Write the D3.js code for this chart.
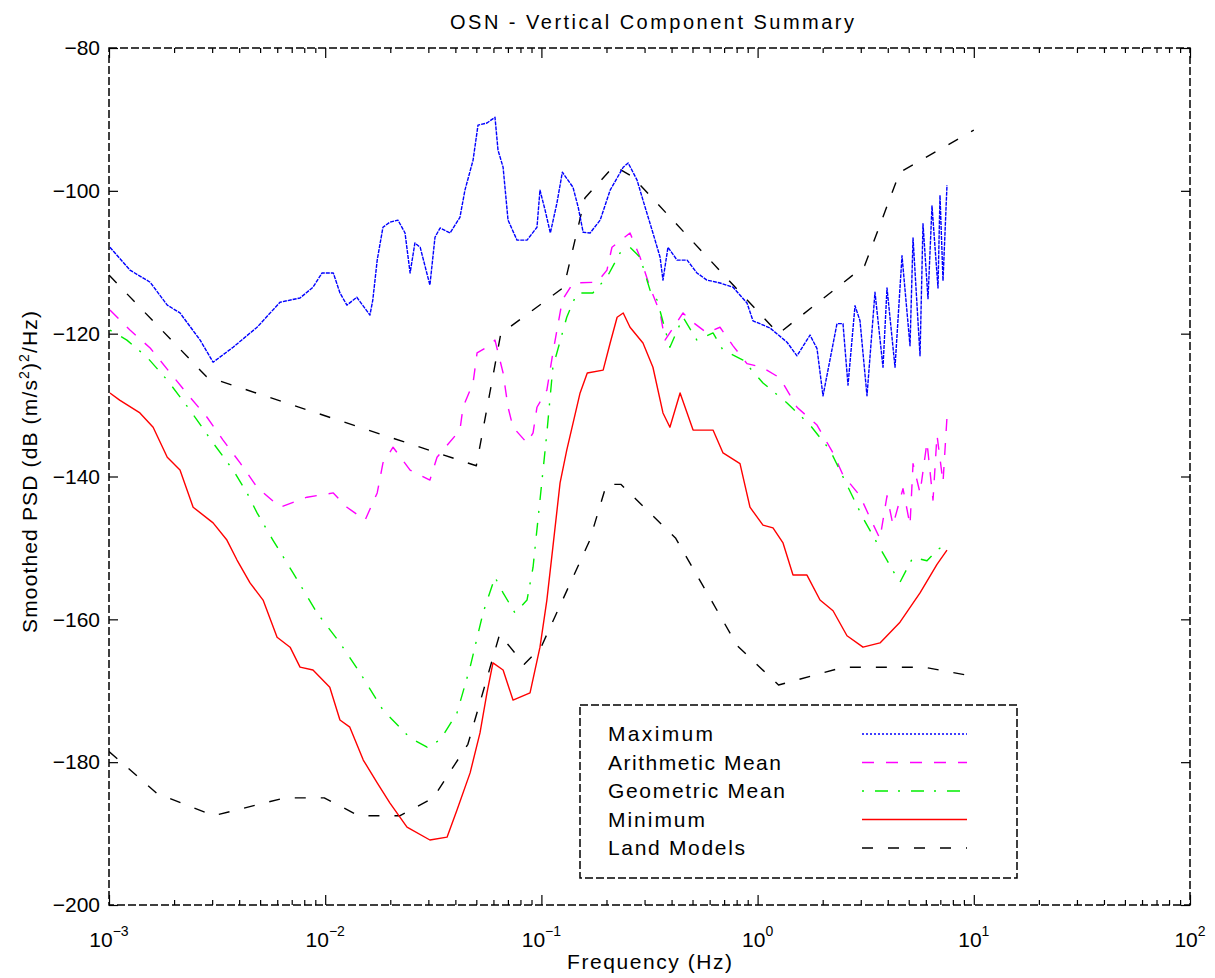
<!DOCTYPE html>
<html>
<head>
<meta charset="utf-8">
<script src="https://cdn.jsdelivr.net/npm/d3@7"></script>
<style>
  body { margin: 0; background: #fff; }
  svg { display: block; }
  text { font-family: "Liberation Sans", Arial, Helvetica, sans-serif; fill: #000; }
</style>
</head>
<body>
<svg id="chart" width="1215" height="978"></svg>
<script>
// ---- Smoothed PSD summary, vertical component (frequency in Hz, PSD in dB) ----
const maxFreq = [
  0.00101,0.00125,0.00155,0.00186,0.00213,0.00264,0.00303,0.00375,0.00484,0.00618,
  0.00765,0.00878,0.00967,0.0109,0.0117,0.0126,0.0140,0.0161,0.0166,0.0174,
  0.0185,0.0199,0.0217,0.0234,0.0247,0.0260,0.0275,0.0305,0.0322,0.0340,
  0.0378,0.0420,0.0443,0.0483,0.0509,0.0560,0.0610,0.0630,0.0665,0.0701,
  0.0771,0.0858,0.0954,0.0985,0.104,0.110,0.118,0.125,0.140,0.148,
  0.156,0.168,0.187,0.208,0.239,0.252,0.277,0.295,0.328,0.354,
  0.365,0.385,0.424,0.472,0.524,0.583,0.670,0.770,0.893,0.952,
  1.141,1.368,1.521,1.748,1.883,2.007,2.329,2.483,2.619,2.822,
  2.976,3.206,3.491,3.802,3.968,4.321,4.655,5.070,5.235,5.640,
  5.821,6.140,6.407,6.830,6.977,7.204,7.516
];
const maxDb = [
  -107.9,-111.1,-112.8,-116.0,-117.1,-120.9,-124.0,-121.9,-119.1,-115.6,
  -115.0,-113.5,-111.5,-111.5,-114.3,-116.0,-114.9,-117.4,-115.3,-109.7,
  -105.1,-104.4,-104.1,-105.9,-111.5,-107.3,-107.9,-113.2,-106.5,-105.2,
  -105.9,-103.7,-99.9,-95.7,-90.8,-90.5,-89.7,-94.3,-96.7,-104.1,
  -106.9,-106.9,-105.1,-99.9,-102.7,-105.9,-101.7,-97.4,-99.5,-102.3,
  -105.8,-105.9,-104.1,-99.9,-96.7,-96.1,-98.5,-101.3,-105.9,-109.3,
  -112.5,-107.9,-109.7,-109.7,-111.5,-112.5,-112.9,-113.5,-115.7,-118.2,
  -119.2,-121.2,-123.1,-120.2,-122.1,-128.7,-118.6,-118.6,-127.2,-116.1,
  -118.2,-128.7,-114.2,-124.7,-113.6,-124.7,-109.1,-121.7,-106.6,-123.1,
  -104.6,-115.1,-102.1,-113.6,-100.6,-112.6,-99.2
];

const amFreq = [
  0.00101,0.00125,0.00155,0.00192,0.00237,0.00284,0.00337,0.00404,0.00484,0.00618,
  0.00824,0.0109,0.0126,0.0153,0.0174,0.0185,0.0206,0.0247,0.0305,0.0329,
  0.0420,0.0434,0.0483,0.0504,0.0560,0.0610,0.0665,0.0701,0.0739,0.0858,
  0.0915,0.0954,0.106,0.113,0.125,0.140,0.181,0.201,0.212,0.257,
  0.286,0.318,0.354,0.373,0.452,0.487,0.583,0.670,0.770,0.893,
  1.048,1.269,1.521,1.883,2.233,2.483,2.976,3.311,3.682,3.968,
  4.229,4.704,5.070,5.235,5.640,6.074,6.476,6.757,7.204,7.516
];
const amDb = [
  -116.7,-119.5,-122.0,-125.5,-128.9,-131.7,-134.9,-138.1,-141.5,-144.3,
  -142.9,-142.3,-144.3,-146.1,-142.3,-138.1,-135.9,-139.1,-140.5,-137.3,
  -133.5,-130.3,-126.9,-122.7,-121.9,-120.9,-125.5,-130.3,-133.1,-135.3,
  -133.9,-130.3,-127.9,-122.7,-115.3,-112.9,-112.8,-111.1,-107.9,-105.9,
  -109.3,-113.5,-117.1,-120.9,-117.1,-118.1,-119.9,-119.1,-121.7,-124.2,
  -124.7,-126.2,-130.3,-132.8,-136.7,-139.8,-142.7,-145.8,-148.7,-142.7,
  -146.8,-141.7,-146.8,-138.2,-142.3,-135.2,-143.3,-134.2,-140.8,-131.7
];

const gmFreq = [
  0.00101,0.00121,0.00150,0.00186,0.00237,0.00303,0.00375,0.00435,0.00484,0.00573,
  0.00710,0.00917,0.0117,0.0145,0.0185,0.0247,0.0296,0.0340,0.0407,0.0468,
  0.0537,0.0610,0.0665,0.0755,0.0858,0.0915,0.0985,0.106,0.113,0.131,
  0.146,0.173,0.201,0.231,0.257,0.286,0.318,0.343,0.393,0.452,
  0.524,0.622,0.692,0.856,1.059,1.368,1.748,2.162,2.591,3.073,
  3.567,4.229,4.556,5.235,6.074,6.757,7.358
];
const gmDb = [
  -119.5,-120.9,-123.3,-126.5,-130.7,-135.3,-139.1,-142.3,-145.1,-148.9,
  -153.5,-159.1,-163.3,-167.5,-172.7,-176.6,-177.9,-176.9,-173.1,-166.7,
  -159.1,-154.1,-156.3,-159.1,-157.3,-152.7,-143.3,-133.9,-124.7,-117.7,
  -114.3,-114.3,-112.1,-108.7,-107.9,-109.3,-113.9,-115.3,-121.9,-117.7,
  -120.9,-119.9,-122.3,-123.7,-126.9,-129.7,-132.8,-136.3,-141.2,-145.8,
  -149.3,-153.2,-154.8,-151.3,-151.8,-150.3,-149.6
];

const minFreq = [
  0.00101,0.00112,0.00139,0.00160,0.00186,0.00213,0.00245,0.00303,0.00351,0.00391,
  0.00449,0.00516,0.00599,0.00688,0.00765,0.00878,0.0105,0.0117,0.0130,0.0150,
  0.0174,0.0199,0.0239,0.0305,0.0366,0.0407,0.0468,0.0520,0.0560,0.0597,
  0.0665,0.0739,0.0886,0.0985,0.106,0.113,0.122,0.131,0.151,0.163,
  0.193,0.208,0.224,0.239,0.257,0.295,0.328,0.365,0.393,0.438,
  0.503,0.622,0.692,0.829,0.922,1.059,1.178,1.311,1.458,1.692,
  1.944,2.233,2.591,3.073,3.682,4.556,5.640,6.757,7.516
];
const minDb = [
  -128.3,-129.3,-131.1,-133.1,-137.3,-139.1,-144.3,-146.5,-148.9,-151.7,
  -154.9,-157.3,-162.5,-163.9,-166.7,-167.1,-169.5,-174.1,-175.1,-179.7,
  -182.9,-185.7,-189.1,-190.9,-190.5,-186.7,-181.5,-175.9,-170.3,-166.1,
  -167.1,-171.3,-170.3,-163.9,-157.3,-149.9,-140.9,-136.3,-128.3,-125.5,
  -125.1,-121.3,-117.7,-117.1,-119.1,-121.3,-124.7,-131.1,-133.1,-128.3,
  -133.5,-133.5,-136.7,-138.2,-144.3,-146.8,-147.2,-149.3,-153.8,-153.8,
  -157.3,-158.8,-162.3,-163.9,-163.3,-160.4,-156.3,-152.3,-150.3
];

// Land noise models: high and low bounds
const nhnmFreq = [0.001,0.00282,0.05,0.0649,0.127,0.159,0.217,0.263,1.25,3.125,4.545,10];
const nhnmDb   = [-111.8,-126.0,-138.5,-120.0,-113.5,-101.0,-96.5,-98.0,-120.0,-110.5,-97.4,-91.5];
const nlnmFreq = [0.001,0.00167,0.00305,0.0065,0.0099,0.0143,0.0222,0.0316,0.0457,0.0641,
                  0.0833,0.1,0.167,0.2,0.233,0.417,0.806,1.25,2.5,5.88,10];
const nlnmDb   = [-178.5,-184.4,-187.5,-185.0,-185.0,-187.5,-187.5,-185.0,-177.5,-162.1,
                  -166.3,-163.8,-149.0,-141.1,-141.1,-148.6,-163.7,-169.2,-166.7,-166.7,-168.0];

// Axes
const xDecades = [-3, -2, -1, 0, 1, 2];
const yTicks = [-200, -180, -160, -140, -120, -100, -80];
const legendLabels = ["Maximum", "Arithmetic Mean", "Geometric Mean", "Minimum", "Land Models"];

// ---- drawing ----
const svg = d3.select("#chart");
const L = 109, R = 1190, T = 48, B = 905;

const x = d3.scaleLog().domain([1e-3, 1e2]).range([L, R]);
const y = d3.scaleLinear().domain([-200, -80]).range([B, T]);

const zip = (f, v) => f.slice(0, Math.min(f.length, v.length)).map((d, i) => [d, v[i]]);
const line = d3.line().x(d => x(d[0])).y(d => y(d[1]));

const styles = {
  max:  { color: "#0000ff", dash: "4,1", legendDash: "2,2" },
  am:   { color: "#ff00ff", dash: "12,12" },
  gm:   { color: "#00ee00", dash: "2,11,13,10" },
  min:  { color: "#ff0000", dash: null },
  land: { color: "#000000", dash: "11,15" }
};

svg.append("clipPath").attr("id", "plotclip")
  .append("rect").attr("x", L).attr("y", T).attr("width", R - L).attr("height", B - T);

const plot = svg.append("g").attr("clip-path", "url(#plotclip)");

const series = [
  { data: zip(nhnmFreq, nhnmDb), s: styles.land },
  { data: zip(nlnmFreq, nlnmDb), s: styles.land },
  { data: zip(maxFreq, maxDb), s: styles.max },
  { data: zip(amFreq, amDb), s: styles.am },
  { data: zip(gmFreq, gmDb), s: styles.gm },
  { data: zip(minFreq, minDb), s: styles.min }
];

series.forEach(d => {
  plot.append("path")
    .attr("d", line(d.data))
    .attr("fill", "none")
    .attr("stroke", d.s.color)
    .attr("stroke-width", 1.4)
    .attr("stroke-dasharray", d.s.dash)
    .attr("stroke-linejoin", "round");
});

// Tick marks (inside the box, on all four sides)
const majorX = xDecades.map(e => Math.pow(10, e));
const minorX = [];
xDecades.slice(0, -1).forEach(e => { for (let m = 2; m <= 9; m++) minorX.push(m * Math.pow(10, e)); });

function strip(g) { g.select(".domain").remove(); g.selectAll("text").remove(); g.selectAll("line").attr("stroke", "#000").attr("stroke-width", 1.2); }

svg.append("g").attr("transform", `translate(0,${B})`)
  .call(d3.axisBottom(x).tickValues(majorX).tickSize(-10).tickSizeOuter(0)).call(strip);
svg.append("g").attr("transform", `translate(0,${B})`)
  .call(d3.axisBottom(x).tickValues(minorX).tickSize(-5).tickSizeOuter(0)).call(strip);
svg.append("g").attr("transform", `translate(0,${T})`)
  .call(d3.axisTop(x).tickValues(majorX).tickSize(-10).tickSizeOuter(0)).call(strip);
svg.append("g").attr("transform", `translate(0,${T})`)
  .call(d3.axisTop(x).tickValues(minorX).tickSize(-5).tickSizeOuter(0)).call(strip);

// Left axis with labels
const yAxis = svg.append("g").attr("transform", `translate(${L},0)`)
  .call(d3.axisLeft(y).tickValues(yTicks).tickSize(-9).tickSizeOuter(0).tickPadding(9)
    .tickFormat(d => String(d).replace("-", "\u2212")));
yAxis.select(".domain").remove();
yAxis.selectAll("line").attr("stroke", "#000").attr("stroke-width", 1.2);
yAxis.selectAll("text").attr("font-size", 21).attr("font-family", "Liberation Sans, Arial, sans-serif");

svg.append("g").attr("transform", `translate(${R},0)`)
  .call(d3.axisRight(y).tickValues(yTicks).tickSize(-9).tickSizeOuter(0)).call(strip);

// Box (drawn last so it sits on top of the curves)
svg.append("rect")
  .attr("x", L).attr("y", T).attr("width", R - L).attr("height", B - T)
  .attr("fill", "none").attr("stroke", "#000").attr("stroke-width", 1.5)
  .attr("stroke-dasharray", "8,3");

// X tick labels: 10 with superscript exponent
const xl = svg.append("g");
majorX.forEach((v, i) => {
  const t = xl.append("text")
    .attr("x", x(v)).attr("y", 947)
    .attr("text-anchor", "middle").attr("font-size", 21);
  t.append("tspan").text("10");
  t.append("tspan").attr("dy", -11).attr("font-size", 14)
    .text(String(xDecades[i]).replace("-", "\u2212"));
});

// Axis titles
svg.append("text").attr("x", (L + R) / 2).attr("y", 969)
  .attr("text-anchor", "middle").attr("font-size", 21)
  .attr("textLength", 165).attr("lengthAdjust", "spacing")
  .text("Frequency (Hz)");

const yl = svg.append("text")
  .attr("transform", `translate(37,472) rotate(-90)`)
  .attr("text-anchor", "middle").attr("font-size", 21)
  .attr("textLength", 322).attr("lengthAdjust", "spacing");
yl.append("tspan").text("Smoothed PSD (dB (m/s");
yl.append("tspan").attr("dy", -8).attr("font-size", 14).text("2");
yl.append("tspan").attr("dy", 8).text(")");
yl.append("tspan").attr("dy", -8).attr("font-size", 14).text("2");
yl.append("tspan").attr("dy", 8).text("/Hz)");

svg.append("text").attr("x", 652).attr("y", 29)
  .attr("text-anchor", "middle").attr("font-size", 20)
  .attr("textLength", 404).attr("lengthAdjust", "spacing")
  .text("OSN - Vertical Component Summary");

// Legend
const legendWidths = [105, 173, 177, 97, 137];
const lg = svg.append("g");
lg.append("rect").attr("x", 580).attr("y", 705).attr("width", 437).attr("height", 173)
  .attr("fill", "#fff").attr("stroke", "#000").attr("stroke-width", 1.5)
  .attr("stroke-dasharray", "8,3");
const legendStyles = [styles.max, styles.am, styles.gm, styles.min, styles.land];
legendLabels.forEach((lab, i) => {
  const yy = 734 + i * 28.5;
  lg.append("text").attr("x", 608).attr("y", yy + 7).attr("font-size", 21)
    .attr("textLength", legendWidths[i]).attr("lengthAdjust", "spacing").text(lab);
  lg.append("line").attr("x1", 862).attr("x2", 967).attr("y1", yy).attr("y2", yy)
    .attr("stroke", legendStyles[i].color).attr("stroke-width", 1.4)
    .attr("stroke-dasharray", legendStyles[i].legendDash || legendStyles[i].dash);
});
</script>
</body>
</html>
